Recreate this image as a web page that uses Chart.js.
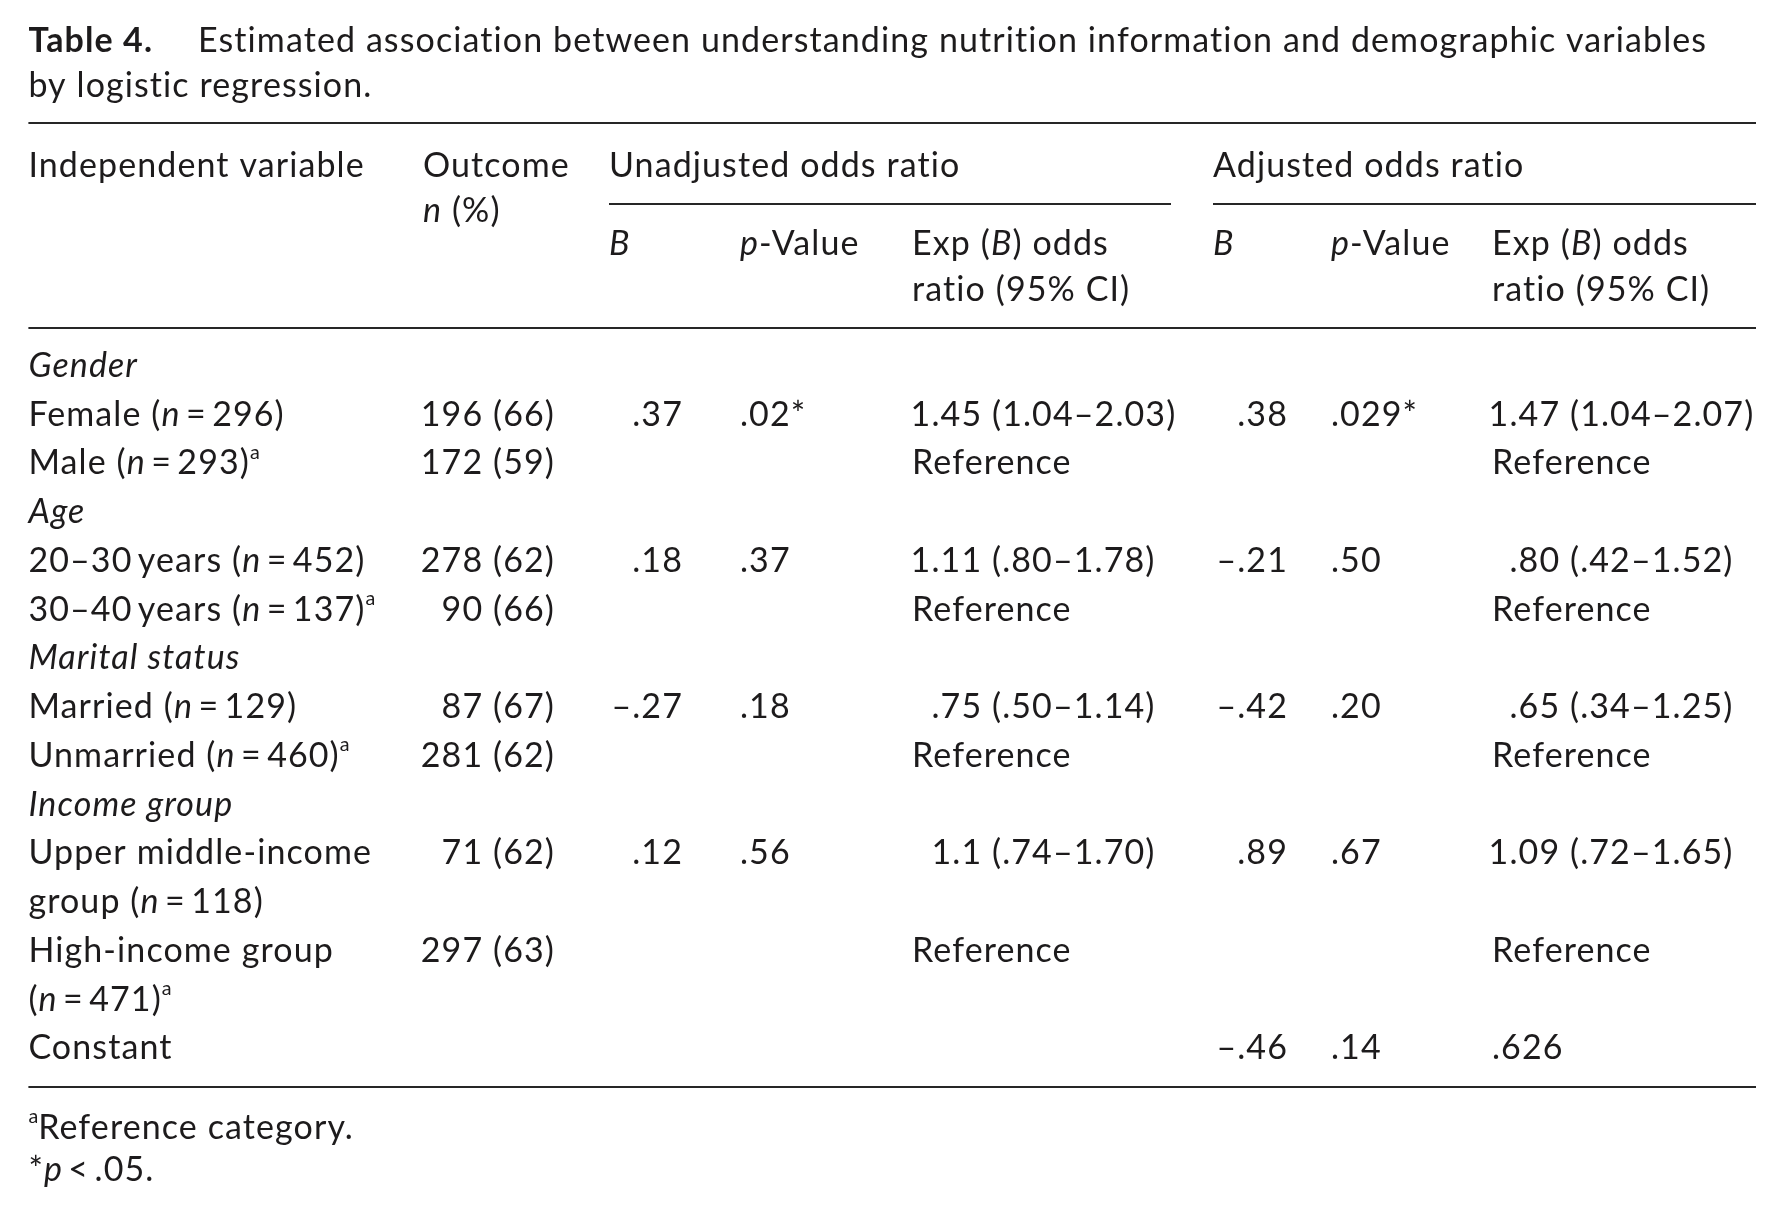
<!DOCTYPE html>
<html><head><meta charset="utf-8">
<script src="https://cdn.jsdelivr.net/npm/chart.js@4.4.1/dist/chart.umd.min.js"></script>
<style>html,body{margin:0;padding:0;background:#fff;overflow:hidden}canvas{display:block}</style>
</head><body>
<canvas id="c" width="1782" height="1210"></canvas>
<script>
// ---------- data ----------
const titleBold = "Table 4.";
const titleText = ["Estimated association between understanding nutrition information and demographic variables", "by logistic regression."];
const headerGroups = ["Independent variable", "Outcome", "Unadjusted odds ratio", "Adjusted odds ratio"];
const headerOutcomeSub = "<i>n</i> (%)";
const subHeaders = ["<i>B</i>", "<i>p</i>-Value", "Exp (<i>B</i>) odds\nratio (95% CI)"];
const rowLabels = [
  "<i>Gender</i>",
  "Female (<i>n</i>\u2009=\u2009296)",
  "Male (<i>n</i>\u2009=\u2009293)<sup>a</sup>",
  "<i>Age</i>",
  "20–30\u2009years (<i>n</i>\u2009=\u2009452)",
  "30–40\u2009years (<i>n</i>\u2009=\u2009137)<sup>a</sup>",
  "<i>Marital status</i>",
  "Married (<i>n</i>\u2009=\u2009129)",
  "Unmarried (<i>n</i>\u2009=\u2009460)<sup>a</sup>",
  "<i>Income group</i>",
  "Upper middle-income\ngroup (<i>n</i>\u2009=\u2009118)",
  "High-income group\n(<i>n</i>\u2009=\u2009471)<sup>a</sup>",
  "Constant"
];
const outcome = ["", "196 (66)", "172 (59)", "", "278 (62)", "90 (66)", "", "87 (67)", "281 (62)", "", "71 (62)", "297 (63)", ""];
const unadjB  = ["", ".37", "", "", ".18", "", "", "–.27", "", "", ".12", "", ""];
const unadjP  = ["", ".02*", "", "", ".37", "", "", ".18", "", "", ".56", "", ""];
const unadjOR = ["", "1.45 (1.04–2.03)", "Reference", "", "1.11 (.80–1.78)", "Reference", "", ".75 (.50–1.14)", "Reference", "", "1.1 (.74–1.70)", "Reference", ""];
const adjB    = ["", ".38", "", "", "–.21", "", "", "–.42", "", "", ".89", "", "–.46"];
const adjP    = ["", ".029*", "", "", ".50", "", "", ".20", "", "", ".67", "", ".14"];
const adjOR   = ["", "1.47 (1.04–2.07)", "Reference", "", ".80 (.42–1.52)", "Reference", "", ".65 (.34–1.25)", "Reference", "", "1.09 (.72–1.65)", "Reference", ".626"];
const footnotes = ["<sup>a</sup>Reference category.", "*<i>p</i>\u2009<\u2009.05."];

// ---------- layout / style ----------
const W = 1782, H = 1210;
const FAMILY = "Lato";
const FS = 34;
const SPACING = "1.1px";
const INK = "#1d1b1c";
const L = { left: 28.4, right: 1756, titleX: 198, title1: 41, title2: 86, rule0: 123, head1: 166, head1b: 211, rule1: 204,
            head2: 244, head3: 290, rule2: 328, body0: 366, pitch: 48.75, rule3: 1087, foot1: 1128, foot2: 1170,
            outcomeL: 423, unadjL: 609, unadjR: 1171, adjL: 1213 };
const columns = [
  { values: rowLabels, x: 28.4, align: "left" },
  { values: outcome, x: 555, align: "right" },
  { values: unadjB, x: 683, align: "right" },
  { values: unadjP, x: 740, align: "left" },
  { values: unadjOR, x: 912, align: "paren", paren: 992 },
  { values: adjB, x: 1288, align: "right" },
  { values: adjP, x: 1331, align: "left" },
  { values: adjOR, x: 1492, align: "paren", paren: 1570 }
];
const subHeaderX = [[609, 740, 912], [1213, 1331, 1492]];

// line index of each row (rows with two-line labels take two lines)
const rowLine = [];
(function () { let k = 0; rowLabels.forEach(s => { rowLine.push(k); k += s.split("\n").length; }); })();

// ---------- rich text ----------
function parseRuns(str) {
  const runs = []; const re = /<(\/?)(i|b|sup)>/g; let st = { i: false, b: false, sup: false }; let last = 0, m;
  while ((m = re.exec(str))) {
    if (m.index > last) runs.push({ t: str.slice(last, m.index), ...st });
    st = { ...st, [m[2]]: m[1] !== "/" }; last = re.lastIndex;
  }
  if (last < str.length) runs.push({ t: str.slice(last), ...st });
  return runs;
}
function setFont(ctx, r) {
  const s = r.sup ? FS * 0.58 : FS;
  ctx.font = (r.i ? "italic " : "") + (r.b ? "bold " : "") + s + "px " + FAMILY;
  ctx.letterSpacing = r.sup ? "0px" : SPACING;
}
function runsWidth(ctx, runs) { let w = 0; runs.forEach(r => { setFont(ctx, r); w += ctx.measureText(r.t).width; }); return w; }
function drawRich(ctx, str, x, y, align, parenX) {
  const runs = parseRuns(str);
  let x0 = x;
  if (align === "right") x0 = x - runsWidth(ctx, runs);
  else if (align === "paren" && str.indexOf("(") >= 0) {
    x0 = parenX - runsWidth(ctx, parseRuns(str.slice(0, str.indexOf("("))));
  }
  ctx.textBaseline = "middle"; ctx.textAlign = "left"; ctx.fillStyle = INK;
  runs.forEach(r => { setFont(ctx, r); ctx.fillText(r.t, x0, r.sup ? y - FS * 0.33 : y); x0 += ctx.measureText(r.t).width; });
}

// ---------- chart ----------
const datasets = columns.map((col, ci) => {
  const pts = [], texts = [];
  col.values.forEach((v, ri) => {
    if (!v) return;
    v.split("\n").forEach((line, li) => {
      pts.push({ x: col.x, y: L.body0 + (rowLine[ri] + li) * L.pitch });
      texts.push(line);
    });
  });
  return { label: "col" + ci, data: pts, texts, col, pointRadius: 0, pointHoverRadius: 0, showLine: false };
});

const tablePlugin = {
  id: "tablePlugin",
  afterDatasetsDraw(chart) {
    const ctx = chart.ctx, sx = chart.scales.x, sy = chart.scales.y;
    const X = v => sx.getPixelForValue(v), Y = v => sy.getPixelForValue(v);
    ctx.save();
    // title
    drawRich(ctx, "<b>" + titleBold + "</b>", X(L.left), Y(L.title1), "left");
    drawRich(ctx, titleText[0], X(L.titleX), Y(L.title1), "left");
    drawRich(ctx, titleText[1], X(L.left), Y(L.title2), "left");
    // rules
    ctx.strokeStyle = "#262626";
    const rule = (x1, x2, y, w) => { ctx.lineWidth = w; ctx.beginPath(); ctx.moveTo(X(x1), Y(y)); ctx.lineTo(X(x2), Y(y)); ctx.stroke(); };
    rule(L.left, L.right, L.rule0, 2.2);
    rule(L.unadjL, L.unadjR, L.rule1, 1.8);
    rule(L.adjL, L.right, L.rule1, 1.8);
    rule(L.left, L.right, L.rule2, 1.8);
    rule(L.left, L.right, L.rule3, 1.8);
    // headers
    drawRich(ctx, headerGroups[0], X(L.left), Y(L.head1), "left");
    drawRich(ctx, headerGroups[1], X(L.outcomeL), Y(L.head1), "left");
    drawRich(ctx, headerOutcomeSub, X(L.outcomeL), Y(L.head1b), "left");
    drawRich(ctx, headerGroups[2], X(L.unadjL), Y(L.head1), "left");
    drawRich(ctx, headerGroups[3], X(L.adjL), Y(L.head1), "left");
    subHeaderX.forEach(xs => {
      subHeaders.forEach((s, i) => {
        s.split("\n").forEach((line, li) => drawRich(ctx, line, X(xs[i]), Y(li ? L.head3 : L.head2), "left"));
      });
    });
    // body cells, positioned by the library's scales
    chart.data.datasets.forEach((ds, di) => {
      const meta = chart.getDatasetMeta(di);
      meta.data.forEach((pt, i) => {
        const col = ds.col;
        drawRich(ctx, ds.texts[i], pt.x, pt.y, col.align, col.paren ? X(col.paren) : 0);
      });
    });
    // footnotes
    drawRich(ctx, footnotes[0], X(L.left), Y(L.foot1), "left");
    drawRich(ctx, footnotes[1], X(L.left), Y(L.foot2), "left");
    ctx.restore();
  }
};

new Chart(document.getElementById("c"), {
  type: "scatter",
  data: { datasets },
  options: {
    responsive: false, devicePixelRatio: 1, animation: false,
    layout: { padding: 0 },
    plugins: { legend: { display: false }, tooltip: { enabled: false } },
    scales: {
      x: { type: "linear", min: 0, max: W, display: false },
      y: { type: "linear", min: 0, max: H, reverse: true, display: false }
    }
  },
  plugins: [tablePlugin]
});
</script>
</body></html>
